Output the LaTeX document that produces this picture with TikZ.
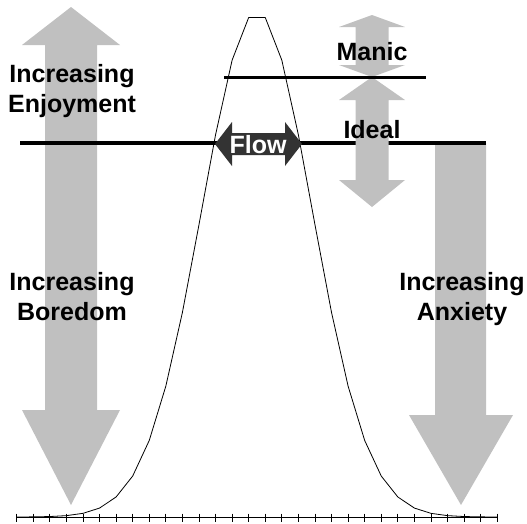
\documentclass[tikz,border=0pt]{standalone}
\usepackage{fontspec}
\setmainfont{Liberation Sans}
\begin{document}
\begin{tikzpicture}[x=1pt,y=-1pt,
  greyarrow/.style={fill=arrowgrey,draw=none},
  lbl/.style={font=\fontsize{25}{30}\selectfont\bfseries,anchor=base,inner sep=0pt},
  level/.style={line width=4pt,draw=black}]
\definecolor{arrowgrey}{RGB}{192,192,192}
\definecolor{flowdark}{RGB}{51,51,51}
\useasboundingbox (0,0) rectangle (527,523);
% big grey arrows
\path[greyarrow] (71,7) -- (120,45) -- (97,45) -- (97,410) -- (120,410) -- (71,505)
  -- (22,410) -- (45,410) -- (45,45) -- (22,45) -- cycle;
\path[greyarrow] (435,143) -- (486,143) -- (486,415) -- (513,415) -- (461,505)
  -- (409,415) -- (435,415) -- cycle;
% flow line
\coordinate (fl1) at (20,143);
\coordinate (fl2) at (486,143);
\draw[level] (fl1) -- (fl2);
% ideal and manic arrows
\path[greyarrow] (372,77) -- (405,100) -- (388.5,100) -- (388.5,180) -- (405,180) -- (372,207)
  -- (339,180) -- (355.5,180) -- (355.5,100) -- (339,100) -- cycle;
\path[greyarrow] (372,15) -- (405,27) -- (388.5,27) -- (388.5,65) -- (405,65) -- (372,77)
  -- (339,65) -- (355.5,65) -- (355.5,27) -- (339,27) -- cycle;
% manic line
\coordinate (ml1) at (224,77);
\coordinate (ml2) at (426,77);
\draw[line width=3pt] (ml1) -- (ml2);
% bell curve
\draw[line width=0.8pt,line join=round] plot[samples at={0,...,29}]
  ({16.7+16.57*\x},{517-505*exp(-1*((\x-14.5)*(\x-14.5))/22.4)});
% flow arrow
\fill[flowdark] (215,144) -- (232,122) -- (232,133) -- (285,133) -- (285,122) -- (302,144)
  -- (285,166) -- (285,155) -- (232,155) -- (232,166) -- cycle;
\node[lbl,text=white] (flow) at (258,153) {Flow};
% axis
\coordinate (ax1) at (16.7,517);
\coordinate (ax2) at (497.2,517);
\draw[line width=1pt] (ax1) -- (ax2);
\foreach \k in {0,...,29}
  \draw[line width=0.8pt] ({16.7+16.57*\k},513.5) -- ({16.7+16.57*\k},521.5);
% labels
\node[lbl] (enj1) at (72,82) {Increasing};
\node[lbl] (enj2) at (72,112) {Enjoyment};
\node[lbl] (bor1) at (72,290) {Increasing};
\node[lbl] (bor2) at (72,320) {Boredom};
\node[lbl] (anx1) at (462,290) {Increasing};
\node[lbl] (anx2) at (462,320) {Anxiety};
\node[lbl] (manic) at (372,60) {Manic};
\node[lbl] (ideal) at (372,138) {Ideal};
\end{tikzpicture}
\end{document}
